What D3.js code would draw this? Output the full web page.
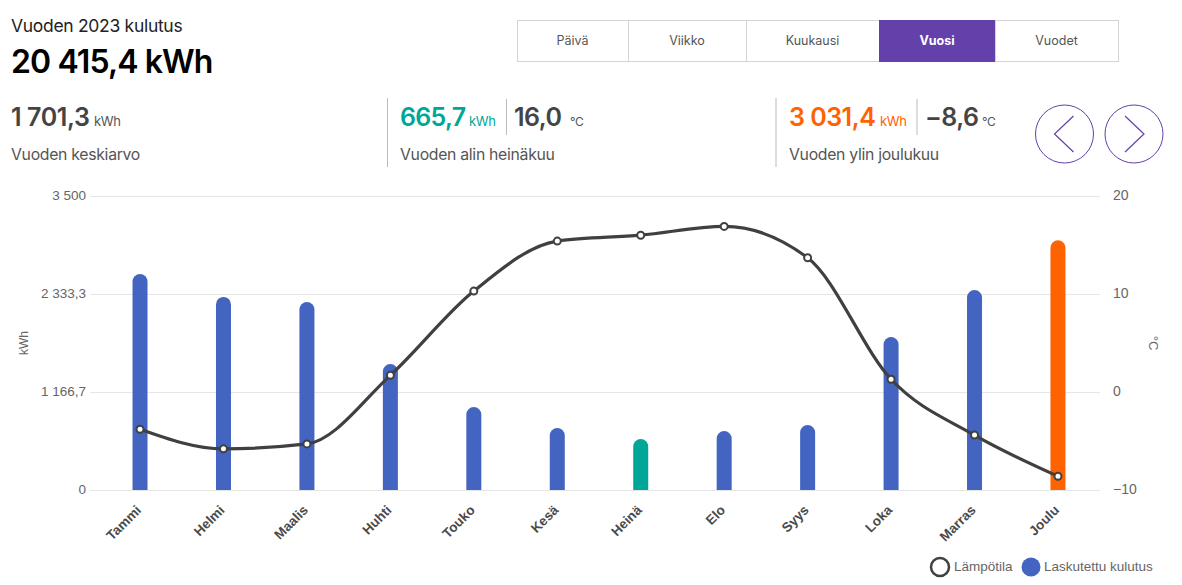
<!DOCTYPE html>
<html>
<head>
<meta charset="utf-8">
<script src="https://cdn.jsdelivr.net/npm/d3@7"></script>
<style>
    html, body { margin: 0; padding: 0; background: #fff; }
    svg { display: block; }
    text { font-family: Inter, "Noto Sans", sans-serif; }
    .axis text { font-family: "Liberation Sans", Arial, sans-serif; font-size: 13.5px; fill: #666; }
    .axis .domain { display: none; }
    .axis line { stroke: #e6e6e6; }
</style>
</head>
<body>
<svg id="chart" width="1182" height="585"></svg>
<script>
const months = ['Tammi', 'Helmi', 'Maalis', 'Huhti', 'Touko', 'Kesä', 'Heinä', 'Elo', 'Syys', 'Loka', 'Marras', 'Joulu'];
const consumption = [2631, 2358, 2298, 1560, 1048, 798, 665.7, 762, 834, 1881, 2441, 3031.4];
const temperature = [-3.8, -5.8, -5.3, 1.7, 10.3, 15.4, 16.0, 16.9, 13.7, 1.3, -4.4, -8.6];

const kwhTicks = [0, 1166.7, 2333.3, 3500];
const kwhTickLabels = ['0', '1 166,7', '2 333,3', '3 500'];
const tempTicks = [-10, 0, 10, 20];
const tempTickLabels = ['−10', '0', '10', '20'];

const periods = ['Päivä', 'Viikko', 'Kuukausi', 'Vuosi', 'Vuodet'];
const periodEdges = [517, 628, 746, 879, 995, 1118];
const selectedPeriod = 'Vuosi';

const blue = '#4364c1';
const teal = '#00a799';
const orange = '#ff6200';
const purple = '#6340aa';
const dark = '#404040';

const svg = d3.select('#chart');

const xScale = d3.scaleBand().domain(months).range([98.3, 1099.7]);
const kwhScale = d3.scaleLinear().domain([0, 3500]).range([490, 196]);
const tempScale = d3.scaleLinear().domain([-10, 20]).range([490, 196]);

const label = (x, y, str, size, color, weight, spacing) => svg.append('text')
    .attr('x', x).attr('y', y)
    .attr('font-size', size)
    .attr('fill', color)
    .attr('font-weight', weight || 400)
    .attr('letter-spacing', spacing || 0)
    .text(str);

const rule = (x, y1, y2, color) => svg.append('line')
    .attr('x1', x).attr('x2', x).attr('y1', y1).attr('y2', y2)
    .attr('stroke', color || '#bbb');

// header
label(11, 32, 'Vuoden 2023 kulutus', 17.5, '#222', 400, -0.3);
label(11, 73, '20 415,4 kWh', 32, '#000', 600, -0.9);

// period buttons
periods.forEach((p, i) => {
    const active = p === selectedPeriod;
    svg.append('rect')
        .attr('x', periodEdges[i] + 0.5).attr('y', 20.5)
        .attr('width', periodEdges[i + 1] - periodEdges[i]).attr('height', 41)
        .attr('fill', active ? purple : '#fff')
        .attr('stroke', active ? purple : '#d4d4d4');
    svg.append('text')
        .attr('x', (periodEdges[i] + periodEdges[i + 1]) / 2).attr('y', 45)
        .attr('text-anchor', 'middle')
        .attr('font-size', 12.5)
        .attr('font-weight', active ? 700 : 400)
        .attr('fill', active ? '#fff' : '#555')
        .text(p);
});

// summary figures
label(11, 126, '1 701,3', 25, '#444', 600, -0.4);
label(94, 126, 'kWh', 13, '#555', 400, -0.3);
label(11, 160, 'Vuoden keskiarvo', 15.8, '#555', 400, -0.3);

rule(387.5, 98, 167);
label(400, 126, '665,7', 25, teal, 600, -0.7);
label(469, 126, 'kWh', 13, teal, 400, -0.3);
rule(506.5, 99, 135);
label(514, 126, '16,0', 25, '#444', 600, -0.5);
label(570, 126, '°C', 12, '#555', 400, -0.3);
label(400, 160, 'Vuoden alin heinäkuu', 15.8, '#555', 400, -0.3);

rule(776, 98, 167);
label(789, 126, '3 031,4', 25, orange, 600, -0.5);
label(880, 126, 'kWh', 13, orange, 400, -0.3);
rule(917, 99, 135);
label(925, 126, '−8,6', 25, '#444', 600, -0.5);
label(982, 126, '°C', 12, '#555', 400, -0.3);
label(789, 160, 'Vuoden ylin joulukuu', 15.8, '#555', 400, -0.3);

// previous / next
[[1064.5, 1], [1134, -1]].forEach(([cx, dir]) => {
    svg.append('circle').attr('cx', cx).attr('cy', 134).attr('r', 29)
        .attr('fill', '#fff').attr('stroke', purple);
    svg.append('path')
        .attr('d', d3.line()([[cx + dir * 9, 116], [cx - dir * 10, 134], [cx + dir * 9, 152]]))
        .attr('fill', 'none').attr('stroke', purple).attr('stroke-width', 1.2);
});

// axes
const leftAxis = svg.append('g').attr('class', 'axis').attr('transform', 'translate(1100,0)')
    .call(d3.axisLeft(kwhScale).tickValues(kwhTicks)
        .tickFormat((d, i) => kwhTickLabels[i])
        .tickSize(1010).tickPadding(4));
leftAxis.selectAll('text').attr('dy', '0.25em');

const rightAxis = svg.append('g').attr('class', 'axis').attr('transform', 'translate(1100,0)')
    .call(d3.axisRight(tempScale).tickValues(tempTicks)
        .tickFormat((d, i) => tempTickLabels[i])
        .tickSize(0).tickPadding(13));
rightAxis.selectAll('text').attr('dy', '0.25em').style('font-size', '14px');

svg.append('text')
    .attr('transform', 'translate(28,343) rotate(-90)')
    .attr('text-anchor', 'middle')
    .style('font-family', '"Liberation Sans", Arial, sans-serif')
    .attr('font-size', 12).attr('fill', '#666')
    .text('kWh');
svg.append('text')
    .attr('transform', 'translate(1149,343) rotate(90)')
    .attr('text-anchor', 'middle')
    .style('font-family', '"Liberation Sans", Arial, sans-serif')
    .attr('font-size', 13).attr('fill', '#666')
    .text('°C');

// bars, flat at the base and rounded on top; the cap sits 5px under the value
const barWidth = 15;
const capInset = 5;
const barColor = (d) => d === d3.min(consumption) ? teal : d === d3.max(consumption) ? orange : blue;
const barPath = (d, i) => {
    const r = barWidth / 2;
    const cx = xScale(months[i]) + xScale.bandwidth() / 2;
    const top = kwhScale(d) + capInset;
    return `M${cx - r},${kwhScale(0)}V${top + r}A${r},${r} 0 0 1 ${cx + r},${top + r}V${kwhScale(0)}Z`;
};
svg.append('g').selectAll('path').data(consumption).join('path')
    .attr('d', barPath)
    .attr('fill', barColor);

// month labels
svg.append('g').selectAll('text').data(months).join('text')
    .attr('transform', d => `translate(${xScale(d) + xScale.bandwidth() / 2 + 2},${511}) rotate(-45)`)
    .attr('text-anchor', 'end')
    .style('font-family', '"Liberation Sans", Arial, sans-serif')
    .attr('font-size', 13.5)
    .attr('font-weight', 700)
    .attr('fill', '#4a4a4a')
    .text(d => d);

// temperature line
const tempLine = d3.line()
    .x((d, i) => xScale(months[i]) + xScale.bandwidth() / 2)
    .y(d => tempScale(d))
    .curve(d3.curveMonotoneX);
svg.append('path')
    .attr('d', tempLine(temperature))
    .attr('fill', 'none')
    .attr('stroke', dark)
    .attr('stroke-width', 3.2);
svg.append('g').selectAll('circle').data(temperature).join('circle')
    .attr('cx', (d, i) => xScale(months[i]) + xScale.bandwidth() / 2)
    .attr('cy', d => tempScale(d))
    .attr('r', 3.5)
    .attr('fill', '#fff')
    .attr('stroke', dark)
    .attr('stroke-width', 2);

// legend
svg.append('circle').attr('cx', 940).attr('cy', 567).attr('r', 9)
    .attr('fill', '#fff').attr('stroke', dark).attr('stroke-width', 2.5);
svg.append('circle').attr('cx', 1031).attr('cy', 567).attr('r', 9.5).attr('fill', blue);
[[954, 'Lämpötila'], [1044, 'Laskutettu kulutus']].forEach(([x, str]) => {
    svg.append('text').attr('x', x).attr('y', 571)
        .style('font-family', '"Liberation Sans", Arial, sans-serif')
        .attr('font-size', 13.5).attr('fill', '#666').text(str);
});
</script>
</body>
</html>
